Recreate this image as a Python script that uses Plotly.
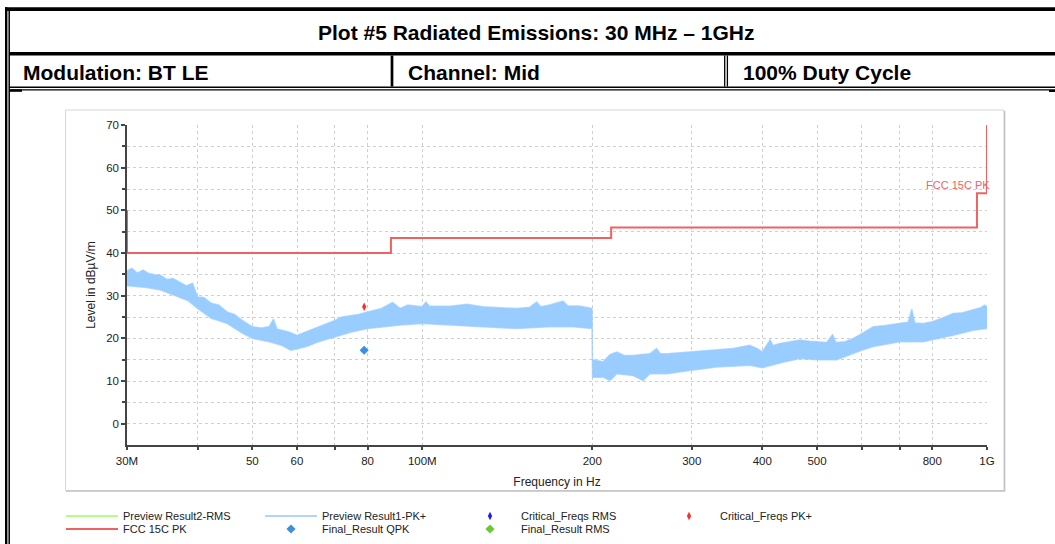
import math
import plotly.graph_objects as go

# ---------------- data ----------------
# Preview Result1-PK+ : upper and lower envelope of the noisy trace (MHz, dBuV/m)
pk_top_freq = [30.0, 30.6, 31.3, 32.0, 32.8, 33.6, 34.4, 35.3, 36.2, 37.2, 38.2, 39.2, 39.6,
               40.0, 41.0, 42.3, 43.6, 45.1, 46.5, 48.0, 50.0, 52.0, 53.6, 54.5, 55.3, 56.3,
               58.0, 60.0, 62.2, 65.5, 70.0, 72.0, 74.9, 77.0, 80.0, 84.7, 88.6, 91.4, 94.3,
               100, 101.5, 103, 112, 120, 128, 138, 147, 155, 159.5, 162, 168, 177.5, 181,
               190, 199.8, 200.2, 205, 209, 215, 221, 228, 236, 245, 253, 260, 264, 271,
               285, 300, 316, 332, 355, 380, 392, 400, 413, 418, 430, 448, 467, 485, 500,
               520, 533, 540, 560, 580, 600, 629, 660, 700, 725, 736, 745, 771, 800, 835,
               871, 905, 945, 975, 990, 1000]
pk_top_level = [35.8, 36.4, 35.3, 36.0, 35.2, 34.9, 34.8, 33.8, 34.0, 33.2, 32.3, 32.9, 31.0,
                29.7, 29.6, 28.2, 27.8, 26.2, 25.6, 24.2, 22.7, 22.4, 22.8, 24.5, 22.2, 21.9,
                21.5, 20.7, 21.5, 22.7, 24.2, 25.0, 25.4, 25.6, 26.2, 27.0, 28.4, 27.0, 27.8,
                27.4, 28.5, 27.5, 27.5, 28.0, 27.4, 27.2, 27.0, 27.3, 28.5, 27.4, 27.8, 28.7, 27.6,
                27.6, 27.0, 15.0, 14.8, 14.5, 16.2, 16.8, 16.0, 16.0, 16.2, 16.4, 17.6, 16.4, 16.4,
                16.6, 16.8, 17.0, 17.2, 17.6, 18.4, 17.6, 16.8, 19.6, 18.3, 18.8, 19.2, 19.6, 19.3, 19.2,
                19.0, 20.9, 19.0, 19.2, 20.0, 21.1, 22.7, 23.0, 23.5, 23.8, 26.8, 23.6, 23.5, 23.9, 24.8,
                25.8, 26.0, 26.6, 27.2, 27.8, 27.4]
pk_bot_freq = [30.0, 32.5, 34.4, 36.5, 38.5, 40.0, 42.3, 45.1, 48.0, 50.0, 53.6, 56.3, 58.5,
               60.0, 62.2, 65.5, 70.0, 74.9, 80.0, 84.7, 91.4, 100, 112, 128, 147, 168, 185,
               199.8, 200.2, 209, 215, 221, 236, 246, 253, 271, 300, 332, 380, 400, 430, 467,
               500, 542, 600, 629, 700, 771, 800, 871, 945, 1000]
pk_bot_level = [32.3, 31.9, 31.3, 30.0, 28.8, 27.0, 24.7, 23.5, 21.2, 20.0, 19.2, 18.4, 17.2,
                17.6, 18.0, 19.2, 20.3, 21.5, 22.3, 22.7, 23.1, 23.5, 23.1, 22.7, 22.3, 22.7, 22.7,
                22.3, 10.9, 10.9, 10.1, 11.7, 11.3, 10.1, 11.7, 11.7, 12.5, 13.3, 13.7, 13.1, 14.2, 15.3,
                15.0, 15.0, 17.2, 18.1, 19.2, 19.2, 19.6, 20.7, 21.9, 22.3]

# FCC 15C PK limit line
limit_freq = [30, 30, 88, 88, 216, 216, 960, 960, 1000, 1000]
limit_level = [50, 40, 40, 43.5, 43.5, 46, 46, 54, 54, 70]

# single measured points
crit_pk_freq = [78.9]
crit_pk_level = [27.4]
qpk_freq = [78.9]
qpk_level = [17.2]

# axes
xtick_vals = [30, 40, 50, 60, 70, 80, 100, 200, 300, 400, 500, 600, 700, 800, 1000]
xtick_text = ["30M", "", "50", "60", "", "80", "100M", "200", "300", "400", "500", "", "", "800", "1G"]
ytick_vals = [0, 10, 20, 30, 40, 50, 60, 70]
yminor_vals = [5, 15, 25, 35, 45, 55, 65]

title_text = "Plot #5 Radiated Emissions: 30 MHz \u2013 1GHz"
cell_texts = ["Modulation: BT LE", "Channel: Mid", "100% Duty Cycle"]

# ---------------- layout geometry ----------------
W, H = 1055, 544
ML, MR, MT, MB = 127, 68, 125, 99
PW = W - ML - MR
PH = H - MT - MB


def px(x):
    return (x - ML) / PW


def py(y):
    return (H - MB - y) / PH


SANS = "Liberation Sans, Arial, Helvetica, sans-serif"
BOLD = "Liberation Sans, Arial, Helvetica, sans-serif"

BAND = "#99ccff"
RED = "#f06262"

fig = go.Figure()

# band of the preview peak trace
fig.add_trace(go.Scatter(
    x=pk_top_freq + pk_bot_freq[::-1],
    y=pk_top_level + pk_bot_level[::-1],
    mode="lines", fill="toself", fillcolor=BAND,
    line=dict(color="rgba(153,204,255,0.7)", width=1.5), showlegend=False, hoverinfo="skip"))

# legend row 1
fig.add_trace(go.Scatter(x=[None], y=[None], mode="lines", name="Preview Result2-RMS",
                         line=dict(color="#b4ff8c", width=2), legend="legend"))
fig.add_trace(go.Scatter(x=[None], y=[None], mode="lines", name="Preview Result1-PK+",
                         line=dict(color="#b0d4ff", width=2), legend="legend"))
fig.add_trace(go.Scatter(x=[None], y=[None], mode="markers", name="Critical_Freqs RMS",
                         marker=dict(color="#1a1aff", symbol="diamond-tall", size=6), legend="legend"))

# limit line (legend row 2)
fig.add_trace(go.Scatter(x=limit_freq, y=limit_level, mode="lines", name="FCC 15C PK",
                         line=dict(color=RED, width=2), legend="legend2"))

fig.add_trace(go.Scatter(x=crit_pk_freq, y=crit_pk_level, mode="markers", name="Critical_Freqs PK+",
                         marker=dict(color="#ff2a2a", symbol="diamond-tall", size=6), legend="legend"))
fig.add_trace(go.Scatter(x=qpk_freq, y=qpk_level, mode="markers", name="Final_Result QPK",
                         marker=dict(color="#3d8fe0", symbol="diamond", size=7), legend="legend2"))
fig.add_trace(go.Scatter(x=[None], y=[None], mode="markers", name="Final_Result RMS",
                         marker=dict(color="#66cc33", symbol="diamond", size=7), legend="legend2"))

# ---------------- shapes: table and panel ----------------
shapes = []


def hline(x0, x1, y, w, color="black"):
    shapes.append(dict(type="line", xref="paper", yref="paper", x0=px(x0), x1=px(x1),
                       y0=py(y), y1=py(y), line=dict(color=color, width=w)))


def vline(x, y0, y1, w, color="black"):
    shapes.append(dict(type="line", xref="paper", yref="paper", x0=px(x), x1=px(x),
                       y0=py(y0), y1=py(y1), line=dict(color=color, width=w)))


hline(5, 1055, 9.2, 3.7)
vline(6.2, 7.3, 544, 2.4)
vline(9.2, 11, 544, 1.5)
hline(9, 1055, 53.7, 3.5)
hline(9, 1055, 87.2, 1.5)
hline(9, 1055, 89.8, 1.2)
vline(392, 55.5, 86.5, 2.7)
vline(724.7, 55.5, 86.5, 1.3)
vline(727.4, 55.5, 86.5, 1.3)
hline(9.5, 22, 90.6, 2.4)
hline(1049, 1055, 91.0, 2.0)

# chart panel
shapes.append(dict(type="rect", xref="paper", yref="paper", x0=px(65.5), x1=px(1004), y0=py(110), y1=py(490.5),
                   line=dict(color="#d6d6d6", width=1)))
hline(66, 1005.2, 491, 1.5, "#c2c2c2")
vline(1004.6, 111, 491, 1.5, "#c2c2c2")

# ---------------- annotations ----------------
ann = []
ann.append(dict(text=title_text, xref="paper", yref="paper", x=px(536), y=py(32),
                xanchor="center", yanchor="middle", showarrow=False,
                font=dict(family=BOLD, size=21, color="black", weight="bold")))
for t, xl in zip(cell_texts, [21, 406, 741]):
    ann.append(dict(text=t, xref="paper", yref="paper", x=px(xl), y=py(73),
                    xanchor="left", yanchor="middle", showarrow=False,
                    font=dict(family=BOLD, size=21, color="black", weight="bold")))
ann.append(dict(text="FCC 15C PK", xref="x", yref="y", x=math.log10(1000), y=54,
                xanchor="right", yanchor="bottom", xshift=5, yshift=0, showarrow=False,
                font=dict(family=SANS, size=11, color=RED)))

legend_common = dict(orientation="h", xanchor="left", yanchor="middle", x=px(61),
                     itemwidth=52, entrywidth=132, entrywidthmode="pixels",
                     font=dict(family=SANS, size=11, color="#222222"),
                     bgcolor="rgba(0,0,0,0)", borderwidth=0, tracegroupgap=0)

GRID = "#cfcfcf"
AX = "#444444"

fig.update_layout(
    width=W, height=H,
    margin=dict(l=ML, r=MR, t=MT, b=MB, autoexpand=False),
    paper_bgcolor="white", plot_bgcolor="white",
    shapes=shapes, annotations=ann,
    legend=dict(legend_common, y=py(516)),
    legend2=dict(legend_common, y=py(529)),
    xaxis=dict(type="log", range=[math.log10(30) - 1e-5, 3 + 1e-5],
               tickmode="array", tickvals=xtick_vals, ticktext=xtick_text,
               showgrid=True, gridcolor=GRID, griddash="dot", gridwidth=1,
               showline=True, linecolor=AX, linewidth=1.5, zeroline=False,
               ticks="outside", ticklen=3, tickcolor=AX, tickwidth=1.5,
               tickfont=dict(family=SANS, size=11.5, color="#222222"), ticklabelstandoff=1,
               title=dict(text="Frequency in Hz", font=dict(family=SANS, size=12, color="#222222"),
                          standoff=12)),
    yaxis=dict(range=[-5, 70], tickmode="array", tickvals=ytick_vals,
               showgrid=True, gridcolor=GRID, griddash="dot", gridwidth=1,
               showline=True, linecolor=AX, linewidth=1.5, zeroline=False,
               ticks="outside", ticklen=4, tickcolor=AX, tickwidth=1.5,
               tickfont=dict(family=SANS, size=11.5, color="#222222"),
               minor=dict(tickmode="array", tickvals=yminor_vals, ticks="outside", ticklen=3,
                          tickcolor=AX, showgrid=True, gridcolor=GRID, griddash="dot"),
               title=dict(text="Level in dB\u00b5V/m", font=dict(family=SANS, size=12, color="#222222"),
                          standoff=8)),
)

fig.write_html("out.html", config={"displayModeBar": False},
               post_script="document.body.style.margin='0px';")
